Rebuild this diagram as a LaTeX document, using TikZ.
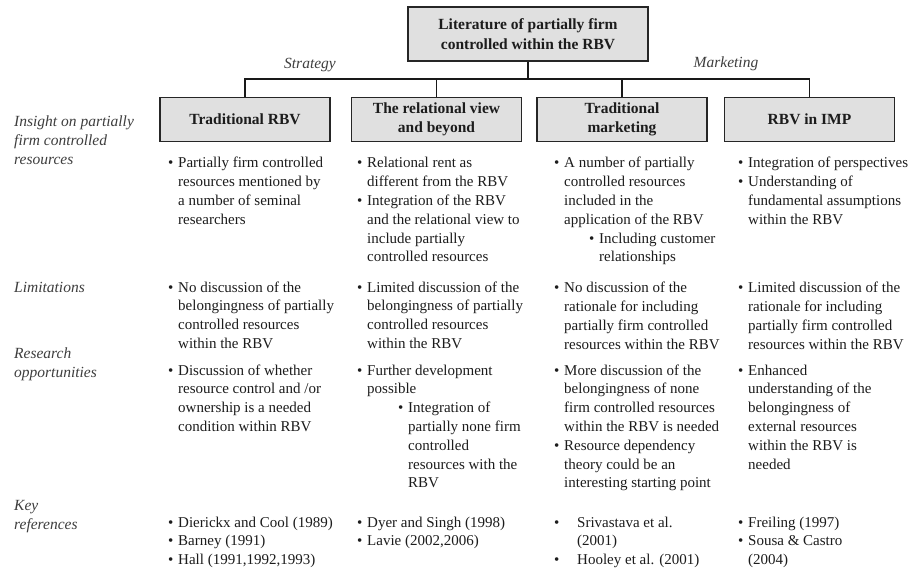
\documentclass[tikz,border=0pt]{standalone}
\usepackage{fontspec}
\setmainfont{Liberation Serif}
\definecolor{boxfill}{RGB}{224,224,224}
\definecolor{boxline}{RGB}{38,38,38}
\definecolor{ink}{RGB}{28,28,28}
\newcommand\bu{\makebox[10pt][l]{•}}
\newcommand\ti{\hspace*{10pt}}
\newcommand\cellfont{\fontsize{15}{18.8}\selectfont}
\tikzset{
  topbox/.style={draw=boxline, line width=1.7pt, fill=boxfill, minimum width=240pt,
    minimum height=54pt, align=center, inner sep=0pt,
    font=\fontsize{15.5}{20}\selectfont\bfseries, text=ink},
  headbox/.style={draw=boxline, line width=1.7pt, fill=boxfill, minimum width=170pt,
    minimum height=44pt, align=center, inner sep=0pt,
    font=\fontsize{15.5}{18.5}\selectfont\bfseries, text=ink},
  link/.style={line width=1.2pt, draw=black!90},
  branch/.style={inner sep=0pt, font=\fontsize{15.5}{19}\selectfont\itshape, text=ink!85},
  rowlabel/.style={anchor=base west, inner sep=0pt, font=\fontsize{15.5}{19}\selectfont\itshape, text=ink!85},
  cell/.style={anchor=base west, inner sep=0pt, font=\cellfont, text=ink}
}
\begin{document}
\begin{tikzpicture}[x=1pt,y=-1pt]
\path[use as bounding box, fill=white] (0,0) rectangle (916,572);

% tree of literature streams
\node[topbox] (top) at (528,34) {Literature of partially firm\\controlled within the RBV};
\node[headbox] (h1) at (245,119.5) {Traditional RBV};
\node[headbox] (h2) at (436.5,119.5) {The relational view\\and beyond};
\node[headbox] (h3) at (622,119.5) {Traditional\\marketing};
\node[headbox] (h4) at (809.5,119.5) {RBV in IMP};
\coordinate (bus) at (528,79);
\draw[link] (top.south) -- (bus);
\draw[link] (h1.north) |- (bus) -| (h4.north);
\draw[link] (h2.north) -- (h2.north |- bus);
\draw[link] (h3.north) -- (h3.north |- bus);
\node[branch] (strat) at (310,65) {Strategy};
\node[branch] (mkt) at (726,64) {Marketing};

% row labels
\node[rowlabel] (lins) at (14,127) {\begin{tabular}[t]{@{}l@{}}Insight on partially\\firm controlled\\resources\end{tabular}};
\node[rowlabel] (llim) at (14,293) {Limitations};
\node[rowlabel] (lres) at (14,358) {\begin{tabular}[t]{@{}l@{}}Research\\opportunities\end{tabular}};
\node[rowlabel] (lkey) at (14,510) {\begin{tabular}[t]{@{}l@{}}Key\\references\end{tabular}};

% insight row
\node[cell] (i1) at (168,168) {\begin{tabular}[t]{@{}l@{}}
\bu Partially firm controlled\\ \ti resources mentioned by\\ \ti a number of seminal\\ \ti researchers\end{tabular}};
\node[cell] (i2) at (357,168) {\begin{tabular}[t]{@{}l@{}}
\bu Relational rent as\\ \ti different from the RBV\\ \bu Integration of the RBV\\ \ti and the relational view to\\ \ti include partially\\ \ti controlled resources\end{tabular}};
\node[cell] (i3) at (554,168) {\begin{tabular}[t]{@{}l@{}}
\bu A number of partially\\ \ti controlled resources\\ \ti included in the\\ \ti application of the RBV\\ \hspace*{35pt}\bu Including customer\\ \hspace*{45pt}relationships\end{tabular}};
\node[cell] (i4) at (738,168) {\begin{tabular}[t]{@{}l@{}}
\bu Integration of perspectives\\ \bu Understanding of\\ \ti fundamental assumptions\\ \ti within the RBV\end{tabular}};

% limitations row
\node[cell] (m1) at (168,292) {\begin{tabular}[t]{@{}l@{}}
\bu No discussion of the\\ \ti belongingness of partially\\ \ti controlled resources\\ \ti within the RBV\end{tabular}};
\node[cell] (m2) at (357,292) {\begin{tabular}[t]{@{}l@{}}
\bu Limited discussion of the\\ \ti belongingness of partially\\ \ti controlled resources\\ \ti within the RBV\end{tabular}};
\node[cell] (m3) at (554,293) {\begin{tabular}[t]{@{}l@{}}
\bu No discussion of the\\ \ti rationale for including\\ \ti partially firm controlled\\ \ti resources within the RBV\end{tabular}};
\node[cell] (m4) at (738,293) {\begin{tabular}[t]{@{}l@{}}
\bu Limited discussion of the\\ \ti rationale for including\\ \ti partially firm controlled\\ \ti resources within the RBV\end{tabular}};

% research opportunities row
\node[cell] (r1) at (168,375) {\begin{tabular}[t]{@{}l@{}}
\bu Discussion of whether\\ \ti resource control and /or\\ \ti ownership is a needed\\ \ti condition within RBV\end{tabular}};
\node[cell] (r2) at (357,375) {\begin{tabular}[t]{@{}l@{}}
\bu Further development\\ \ti possible\\ \hspace*{41pt}\bu Integration of\\ \hspace*{51pt}partially none firm\\ \hspace*{51pt}controlled\\ \hspace*{51pt}resources with the\\ \hspace*{51pt}RBV\end{tabular}};
\node[cell] (r3) at (554,375) {\begin{tabular}[t]{@{}l@{}}
\bu More discussion of the\\ \ti belongingness of none\\ \ti firm controlled resources\\ \ti within the RBV is needed\\ \bu Resource dependency\\ \ti theory could be an\\ \ti interesting starting point\end{tabular}};
\node[cell] (r4) at (738,375) {\begin{tabular}[t]{@{}l@{}}
\bu Enhanced\\ \ti understanding of the\\ \ti belongingness of\\ \ti external resources\\ \ti within the RBV is\\ \ti needed\end{tabular}};

% key references row
\node[cell] (k1) at (168,527) {\begin{tabular}[t]{@{}l@{}}
\bu Dierickx and Cool (1989)\\ \bu Barney (1991)\\ \bu Hall (1991,1992,1993)\end{tabular}};
\node[cell] (k2) at (357,527) {\begin{tabular}[t]{@{}l@{}}
\bu Dyer and Singh (1998)\\ \bu Lavie (2002,2006)\end{tabular}};
\node[cell] (k3) at (554,527) {\begin{tabular}[t]{@{}l@{}}
\makebox[23pt][l]{•}Srivastava et al.\\ \hspace*{23pt}(2001)\\ \makebox[23pt][l]{•}Hooley et al. (2001)\end{tabular}};
\node[cell] (k4) at (738,527) {\begin{tabular}[t]{@{}l@{}}
\bu Freiling (1997)\\ \bu Sousa \& Castro\\ \ti (2004)\end{tabular}};
\end{tikzpicture}
\end{document}
